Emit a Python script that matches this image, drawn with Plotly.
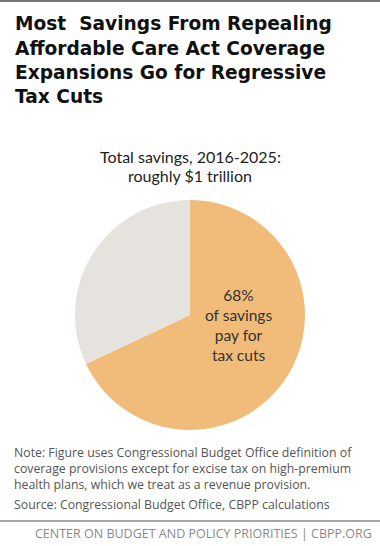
import plotly.graph_objects as go

categories = ["Tax cuts", "Other"]
shares = [68, 32]
colors = ["#F1BC79", "#E6E2DE"]

title_lines = ["Most  Savings From Repealing", "Affordable Care Act Coverage",
               "Expansions Go for Regressive", "Tax Cuts"]
subtitle_lines = ["Total savings, 2016-2025:", "roughly $1 trillion"]
inside_lines = ["68%", "of savings", "pay for", "tax cuts"]
note_lines = ["Note: Figure uses Congressional Budget Office definition of",
              "coverage provisions except for excise tax on high-premium",
              "health plans, which we treat as a revenue provision."]
source_text = "Source: Congressional Budget Office, CBPP calculations"
footer_text = "CENTER ON BUDGET AND POLICY PRIORITIES | CBPP.ORG"

W, H = 380, 546
cx, cy, r = 190, 315, 115

def py(y):
    return 1 - y / H

fig = go.Figure(go.Pie(
    labels=categories, values=shares, sort=False, direction="clockwise",
    rotation=0, marker=dict(colors=colors, line=dict(width=0)),
    textinfo="none", hoverinfo="label+percent", showlegend=False,
    domain=dict(x=[(cx - r) / W, (cx + r) / W], y=[py(cy + r), py(cy - r)]),
))

ann = []
for i, t in enumerate(title_lines):
    ann.append(dict(text=t, x=13 / W, y=py(24 + 24.3 * i), xanchor="left", yanchor="middle",
                    showarrow=False,
                    font=dict(family="DejaVu Sans, Arial", size=18.6, color="#111111", weight=700)))
for i, t in enumerate(subtitle_lines):
    ann.append(dict(text=t, x=0.5, y=py(156 + 20 * i), xanchor="center", yanchor="middle",
                    showarrow=False, font=dict(family="Lato, Arial", size=16, color="#222222")))
ann.append(dict(text="<br>".join(inside_lines), x=239 / W, y=py(325), xanchor="center",
                yanchor="middle", align="center", showarrow=False,
                font=dict(family="Lato, Arial", size=15.5, color="#333333")))
ann.append(dict(text="<br>".join(note_lines), x=12 / W, y=py(469), xanchor="left",
                yanchor="middle", align="left", showarrow=False,
                font=dict(family="Open Sans, Arial", size=12.3, color="#555555")))
ann.append(dict(text=source_text, x=12 / W, y=py(504), xanchor="left", yanchor="middle",
                showarrow=False, font=dict(family="Open Sans, Arial", size=12.3, color="#555555")))
ann.append(dict(text=footer_text, x=374 / W, y=py(533), xanchor="right", yanchor="middle",
                showarrow=False, font=dict(family="Open Sans, Arial", size=12.5, color="#8a8a8a")))

shapes = [
    dict(type="line", xref="paper", yref="paper", x0=0, x1=1, y0=py(1), y1=py(1),
         line=dict(color="#777777", width=2)),
    dict(type="line", xref="paper", yref="paper", x0=0, x1=1, y0=py(521), y1=py(521),
         line=dict(color="#888888", width=1.5)),
]

fig.update_layout(width=W, height=H, margin=dict(l=0, r=0, t=0, b=0),
                  paper_bgcolor="white", plot_bgcolor="white",
                  annotations=ann, shapes=shapes)
fig.write_html("out.html", config={"displayModeBar": False},
               post_script="document.body.style.margin='0px';")
